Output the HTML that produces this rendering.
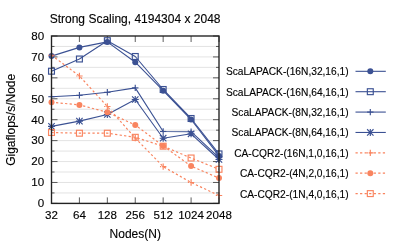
<!DOCTYPE html>
<html><head><meta charset="utf-8"><title>Strong Scaling</title>
<style>html,body{margin:0;padding:0;background:#fff;}body{width:399px;height:242px;overflow:hidden;}svg{display:block;}text{font-family:"Liberation Sans",sans-serif;fill:#000;stroke:#000;stroke-width:0.13px;}</style></head><body>
<svg width="399" height="242" viewBox="0 0 399 242">
<rect x="0" y="0" width="399" height="242" fill="#fff"/>
<defs><filter id="b" x="0" y="0" width="399" height="242" filterUnits="userSpaceOnUse"><feGaussianBlur stdDeviation="0.32"/></filter></defs><g filter="url(#b)">
<path d="M51.5 192.94H219.0M51.5 182.47H219.0M51.5 172.01H219.0M51.5 161.55H219.0M51.5 151.09H219.0M51.5 140.62H219.0M51.5 130.16H219.0M51.5 119.70H219.0M51.5 109.24H219.0M51.5 98.78H219.0M51.5 88.31H219.0M51.5 77.85H219.0M51.5 67.39H219.0M51.5 56.93H219.0M51.5 46.46H219.0" stroke="#dedede" stroke-width="0.85" fill="none"/>
<path d="M51.5 203.40h6M219.0 203.40h-6M51.5 192.94h3M219.0 192.94h-3M51.5 182.47h6M219.0 182.47h-6M51.5 172.01h3M219.0 172.01h-3M51.5 161.55h6M219.0 161.55h-6M51.5 151.09h3M219.0 151.09h-3M51.5 140.62h6M219.0 140.62h-6M51.5 130.16h3M219.0 130.16h-3M51.5 119.70h6M219.0 119.70h-6M51.5 109.24h3M219.0 109.24h-3M51.5 98.78h6M219.0 98.78h-6M51.5 88.31h3M219.0 88.31h-3M51.5 77.85h6M219.0 77.85h-6M51.5 67.39h3M219.0 67.39h-3M51.5 56.93h6M219.0 56.93h-6M51.5 46.46h3M219.0 46.46h-3M51.5 36.00h6M219.0 36.00h-6M51.50 203.4v-6M51.50 36.0v6M79.42 203.4v-6M79.42 36.0v6M107.33 203.4v-6M107.33 36.0v6M135.25 203.4v-6M135.25 36.0v6M163.17 203.4v-6M163.17 36.0v6M191.08 203.4v-6M191.08 36.0v6M219.00 203.4v-6M219.00 36.0v6" stroke="#2a2a2a" stroke-width="0.75" fill="none"/>
<polyline points="51.50,56.10 79.42,47.40 107.33,41.90 135.25,62.20 163.17,90.70 191.08,119.50 219.00,155.90" fill="none" stroke="#3b5193" stroke-width="1.1" stroke-linejoin="round"/>
<circle cx="51.50" cy="56.10" r="3.0" fill="#3b5193" stroke="none"/>
<circle cx="79.42" cy="47.40" r="3.0" fill="#3b5193" stroke="none"/>
<circle cx="107.33" cy="41.90" r="3.0" fill="#3b5193" stroke="none"/>
<circle cx="135.25" cy="62.20" r="3.0" fill="#3b5193" stroke="none"/>
<circle cx="163.17" cy="90.70" r="3.0" fill="#3b5193" stroke="none"/>
<circle cx="191.08" cy="119.50" r="3.0" fill="#3b5193" stroke="none"/>
<circle cx="219.00" cy="155.90" r="3.0" fill="#3b5193" stroke="none"/>
<polyline points="51.50,71.20 79.42,59.00 107.33,40.70 135.25,56.50 163.17,89.50 191.08,118.50 219.00,153.90" fill="none" stroke="#3b5193" stroke-width="1.1" stroke-linejoin="round"/>
<rect x="48.55" y="68.25" width="5.90" height="5.90" fill="none" stroke="#3b5193" stroke-width="1.15"/>
<rect x="76.47" y="56.05" width="5.90" height="5.90" fill="none" stroke="#3b5193" stroke-width="1.15"/>
<rect x="104.38" y="37.75" width="5.90" height="5.90" fill="none" stroke="#3b5193" stroke-width="1.15"/>
<rect x="132.30" y="53.55" width="5.90" height="5.90" fill="none" stroke="#3b5193" stroke-width="1.15"/>
<rect x="160.22" y="86.55" width="5.90" height="5.90" fill="none" stroke="#3b5193" stroke-width="1.15"/>
<rect x="188.13" y="115.55" width="5.90" height="5.90" fill="none" stroke="#3b5193" stroke-width="1.15"/>
<rect x="216.05" y="150.95" width="5.90" height="5.90" fill="none" stroke="#3b5193" stroke-width="1.15"/>
<polyline points="51.50,96.70 79.42,95.30 107.33,92.30 135.25,87.90 163.17,131.50 191.08,131.70 219.00,157.70" fill="none" stroke="#3b5193" stroke-width="1.1" stroke-linejoin="round"/>
<path d="M48.30 96.70H54.70" fill="none" stroke="#3b5193" stroke-width="1.15"/><path d="M51.50 93.50V99.90" fill="none" stroke="#3b5193" stroke-width="1.15"/>
<path d="M76.22 95.30H82.62" fill="none" stroke="#3b5193" stroke-width="1.15"/><path d="M79.42 92.10V98.50" fill="none" stroke="#3b5193" stroke-width="1.15"/>
<path d="M104.13 92.30H110.53" fill="none" stroke="#3b5193" stroke-width="1.15"/><path d="M107.33 89.10V95.50" fill="none" stroke="#3b5193" stroke-width="1.15"/>
<path d="M132.05 87.90H138.45" fill="none" stroke="#3b5193" stroke-width="1.15"/><path d="M135.25 84.70V91.10" fill="none" stroke="#3b5193" stroke-width="1.15"/>
<path d="M159.97 131.50H166.37" fill="none" stroke="#3b5193" stroke-width="1.15"/><path d="M163.17 128.30V134.70" fill="none" stroke="#3b5193" stroke-width="1.15"/>
<path d="M187.88 131.70H194.28" fill="none" stroke="#3b5193" stroke-width="1.15"/><path d="M191.08 128.50V134.90" fill="none" stroke="#3b5193" stroke-width="1.15"/>
<path d="M215.80 157.70H222.20" fill="none" stroke="#3b5193" stroke-width="1.15"/><path d="M219.00 154.50V160.90" fill="none" stroke="#3b5193" stroke-width="1.15"/>
<polyline points="51.50,126.40 79.42,121.10 107.33,114.50 135.25,99.50 163.17,138.20 191.08,133.80 219.00,159.50" fill="none" stroke="#3b5193" stroke-width="1.1" stroke-linejoin="round"/>
<path d="M48.00 126.40H55.00M51.50 122.90V129.90M48.30 123.20L54.70 129.60M48.30 129.60L54.70 123.20" fill="none" stroke="#3b5193" stroke-width="1.15"/>
<path d="M75.92 121.10H82.92M79.42 117.60V124.60M76.22 117.90L82.62 124.30M76.22 124.30L82.62 117.90" fill="none" stroke="#3b5193" stroke-width="1.15"/>
<path d="M103.83 114.50H110.83M107.33 111.00V118.00M104.13 111.30L110.53 117.70M104.13 117.70L110.53 111.30" fill="none" stroke="#3b5193" stroke-width="1.15"/>
<path d="M131.75 99.50H138.75M135.25 96.00V103.00M132.05 96.30L138.45 102.70M132.05 102.70L138.45 96.30" fill="none" stroke="#3b5193" stroke-width="1.15"/>
<path d="M159.67 138.20H166.67M163.17 134.70V141.70M159.97 135.00L166.37 141.40M159.97 141.40L166.37 135.00" fill="none" stroke="#3b5193" stroke-width="1.15"/>
<path d="M187.58 133.80H194.58M191.08 130.30V137.30M187.88 130.60L194.28 137.00M187.88 137.00L194.28 130.60" fill="none" stroke="#3b5193" stroke-width="1.15"/>
<path d="M215.50 159.50H222.50M219.00 156.00V163.00M215.80 156.30L222.20 162.70M215.80 162.70L222.20 156.30" fill="none" stroke="#3b5193" stroke-width="1.15"/>
<polyline points="51.50,55.20 79.42,76.00 107.33,106.50 135.25,138.10 163.17,166.60 191.08,182.50 219.00,195.50" fill="none" stroke="#f9845f" stroke-width="1.2000000000000002" stroke-dasharray="2.25 2.3" stroke-linejoin="round"/>
<path d="M48.30 55.20H54.70" fill="none" stroke="#f9845f" stroke-width="1.15" stroke-dasharray="1.3 0.9 20"/><path d="M51.50 52.00V58.40" fill="none" stroke="#f9845f" stroke-width="1.15"/>
<path d="M76.22 76.00H82.62" fill="none" stroke="#f9845f" stroke-width="1.15" stroke-dasharray="1.3 0.9 20"/><path d="M79.42 72.80V79.20" fill="none" stroke="#f9845f" stroke-width="1.15"/>
<path d="M104.13 106.50H110.53" fill="none" stroke="#f9845f" stroke-width="1.15" stroke-dasharray="1.3 0.9 20"/><path d="M107.33 103.30V109.70" fill="none" stroke="#f9845f" stroke-width="1.15"/>
<path d="M132.05 138.10H138.45" fill="none" stroke="#f9845f" stroke-width="1.15" stroke-dasharray="1.3 0.9 20"/><path d="M135.25 134.90V141.30" fill="none" stroke="#f9845f" stroke-width="1.15"/>
<path d="M159.97 166.60H166.37" fill="none" stroke="#f9845f" stroke-width="1.15" stroke-dasharray="1.3 0.9 20"/><path d="M163.17 163.40V169.80" fill="none" stroke="#f9845f" stroke-width="1.15"/>
<path d="M187.88 182.50H194.28" fill="none" stroke="#f9845f" stroke-width="1.15" stroke-dasharray="1.3 0.9 20"/><path d="M191.08 179.30V185.70" fill="none" stroke="#f9845f" stroke-width="1.15"/>
<path d="M215.80 195.50H222.20" fill="none" stroke="#f9845f" stroke-width="1.15" stroke-dasharray="1.3 0.9 20"/><path d="M219.00 192.30V198.70" fill="none" stroke="#f9845f" stroke-width="1.15"/>
<polyline points="51.50,102.20 79.42,104.90 107.33,112.30 135.25,125.00 163.17,145.90 191.08,166.10 219.00,178.10" fill="none" stroke="#f9845f" stroke-width="1.2000000000000002" stroke-dasharray="2.25 2.3" stroke-linejoin="round"/>
<circle cx="51.50" cy="102.20" r="3.0" fill="#f9845f" stroke="none"/>
<circle cx="79.42" cy="104.90" r="3.0" fill="#f9845f" stroke="none"/>
<circle cx="107.33" cy="112.30" r="3.0" fill="#f9845f" stroke="none"/>
<circle cx="135.25" cy="125.00" r="3.0" fill="#f9845f" stroke="none"/>
<circle cx="163.17" cy="145.90" r="3.0" fill="#f9845f" stroke="none"/>
<circle cx="191.08" cy="166.10" r="3.0" fill="#f9845f" stroke="none"/>
<circle cx="219.00" cy="178.10" r="3.0" fill="#f9845f" stroke="none"/>
<polyline points="51.50,132.50 79.42,133.20 107.33,133.20 135.25,137.30 163.17,146.20 191.08,158.00 219.00,169.30" fill="none" stroke="#f9845f" stroke-width="1.2000000000000002" stroke-dasharray="2.25 2.3" stroke-linejoin="round"/>
<rect x="48.55" y="129.55" width="5.90" height="5.90" fill="none" stroke="#f9845f" stroke-width="1.15"/>
<rect x="76.47" y="130.25" width="5.90" height="5.90" fill="none" stroke="#f9845f" stroke-width="1.15"/>
<rect x="104.38" y="130.25" width="5.90" height="5.90" fill="none" stroke="#f9845f" stroke-width="1.15"/>
<rect x="132.30" y="134.35" width="5.90" height="5.90" fill="none" stroke="#f9845f" stroke-width="1.15"/>
<rect x="160.22" y="143.25" width="5.90" height="5.90" fill="none" stroke="#f9845f" stroke-width="1.15"/>
<rect x="188.13" y="155.05" width="5.90" height="5.90" fill="none" stroke="#f9845f" stroke-width="1.15"/>
<rect x="216.05" y="166.35" width="5.90" height="5.90" fill="none" stroke="#f9845f" stroke-width="1.15"/>
<rect x="51.5" y="36.0" width="167.5" height="167.4" fill="none" stroke="#202020" stroke-width="1.38"/>
<text x="44.1" y="207.20" font-size="11.6" stroke-width="0.14" text-anchor="end">0</text>
<text x="44.1" y="186.28" font-size="11.6" stroke-width="0.14" text-anchor="end">10</text>
<text x="44.1" y="165.35" font-size="11.6" stroke-width="0.14" text-anchor="end">20</text>
<text x="44.1" y="144.43" font-size="11.6" stroke-width="0.14" text-anchor="end">30</text>
<text x="44.1" y="123.50" font-size="11.6" stroke-width="0.14" text-anchor="end">40</text>
<text x="44.1" y="102.58" font-size="11.6" stroke-width="0.14" text-anchor="end">50</text>
<text x="44.1" y="81.65" font-size="11.6" stroke-width="0.14" text-anchor="end">60</text>
<text x="44.1" y="60.73" font-size="11.6" stroke-width="0.14" text-anchor="end">70</text>
<text x="44.1" y="39.80" font-size="11.6" stroke-width="0.14" text-anchor="end">80</text>
<text x="51.50" y="219.35" font-size="11.6" stroke-width="0.14" text-anchor="middle">32</text>
<text x="79.42" y="219.35" font-size="11.6" stroke-width="0.14" text-anchor="middle">64</text>
<text x="107.33" y="219.35" font-size="11.6" stroke-width="0.14" text-anchor="middle">128</text>
<text x="135.25" y="219.35" font-size="11.6" stroke-width="0.14" text-anchor="middle">256</text>
<text x="163.17" y="219.35" font-size="11.6" stroke-width="0.14" text-anchor="middle">512</text>
<text x="191.08" y="219.35" font-size="11.6" stroke-width="0.14" text-anchor="middle">1024</text>
<text x="219.00" y="219.35" font-size="11.6" stroke-width="0.14" text-anchor="middle">2048</text>
<text x="49.7" y="22.8" font-size="12">Strong Scaling, 4194304 x 2048</text>
<text x="135.3" y="237.5" font-size="12" text-anchor="middle">Nodes(N)</text>
<text transform="translate(15.1 119.8) rotate(-90)" font-size="12" text-anchor="middle">Gigaflops/s/Node</text>
<text x="348.6" y="75.32" font-size="10.2" stroke-width="0.1" text-anchor="end">ScaLAPACK-(16N,32,16,1)</text>
<path d="M355.5 71.32H385.8" fill="none" stroke="#3b5193" stroke-width="1.1"/>
<circle cx="370.30" cy="71.32" r="3.0" fill="#3b5193" stroke="none"/>
<text x="348.6" y="95.70" font-size="10.2" stroke-width="0.1" text-anchor="end">ScaLAPACK-(16N,64,16,1)</text>
<path d="M355.5 91.70H385.8" fill="none" stroke="#3b5193" stroke-width="1.1"/>
<rect x="367.35" y="88.75" width="5.90" height="5.90" fill="none" stroke="#3b5193" stroke-width="1.15"/>
<text x="348.6" y="116.08" font-size="10.2" stroke-width="0.1" text-anchor="end">ScaLAPACK-(8N,32,16,1)</text>
<path d="M355.5 112.08H385.8" fill="none" stroke="#3b5193" stroke-width="1.1"/>
<path d="M367.10 112.08H373.50" fill="none" stroke="#3b5193" stroke-width="1.15"/><path d="M370.30 108.88V115.28" fill="none" stroke="#3b5193" stroke-width="1.15"/>
<text x="348.6" y="136.46" font-size="10.2" stroke-width="0.1" text-anchor="end">ScaLAPACK-(8N,64,16,1)</text>
<path d="M355.5 132.46H385.8" fill="none" stroke="#3b5193" stroke-width="1.1"/>
<path d="M366.80 132.46H373.80M370.30 128.96V135.96M367.10 129.26L373.50 135.66M367.10 135.66L373.50 129.26" fill="none" stroke="#3b5193" stroke-width="1.15"/>
<text x="348.6" y="156.84" font-size="10.2" stroke-width="0.1" text-anchor="end">CA-CQR2-(16N,1,0,16,1)</text>
<path d="M355.5 152.84H385.8" fill="none" stroke="#f9845f" stroke-width="1.2000000000000002" stroke-dasharray="2.25 2.3"/>
<path d="M367.10 152.84H373.50" fill="none" stroke="#f9845f" stroke-width="1.15" stroke-dasharray="1.3 0.9 20"/><path d="M370.30 149.64V156.04" fill="none" stroke="#f9845f" stroke-width="1.15"/>
<text x="348.6" y="177.22" font-size="10.2" stroke-width="0.1" text-anchor="end">CA-CQR2-(4N,2,0,16,1)</text>
<path d="M355.5 173.22H385.8" fill="none" stroke="#f9845f" stroke-width="1.2000000000000002" stroke-dasharray="2.25 2.3"/>
<circle cx="370.30" cy="173.22" r="3.0" fill="#f9845f" stroke="none"/>
<text x="348.6" y="197.60" font-size="10.2" stroke-width="0.1" text-anchor="end">CA-CQR2-(1N,4,0,16,1)</text>
<path d="M355.5 193.60H385.8" fill="none" stroke="#f9845f" stroke-width="1.2000000000000002" stroke-dasharray="2.25 2.3"/>
<rect x="367.35" y="190.65" width="5.90" height="5.90" fill="none" stroke="#f9845f" stroke-width="1.15"/>
</g></svg></body></html>
